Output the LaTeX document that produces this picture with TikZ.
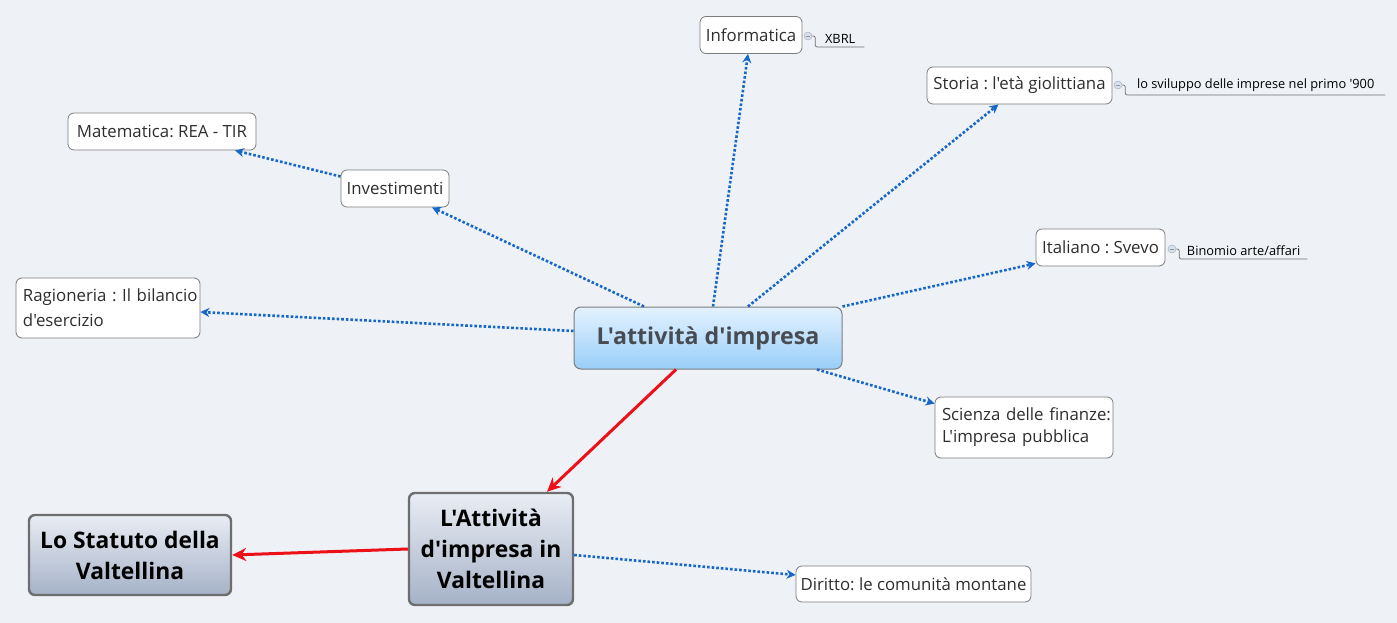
\documentclass[tikz,border=0pt]{standalone}
\usepackage{fontspec}
\newfontfamily\mapfont{Open Sans}
\usetikzlibrary{arrows.meta,positioning,calc}
\definecolor{MyBlue}{HTML}{1767C9}
\definecolor{MyRed}{HTML}{EC1018}
\definecolor{MyBack}{HTML}{EEF2F6}
\definecolor{MyBorder}{HTML}{7C7C7C}
\definecolor{MyFrame}{HTML}{6E6E6E}
\definecolor{MyText}{HTML}{2E2E2E}
\definecolor{MyTopic}{HTML}{474C52}
\definecolor{MyLightTop}{HTML}{E4F2FF}
\definecolor{MyLightBot}{HTML}{99CEF8}
\definecolor{MyGrayTop}{HTML}{E9EDF4}
\definecolor{MyGrayBot}{HTML}{A5B2C7}
\definecolor{MyIcon}{HTML}{D3E1F1}
\frenchspacing

\begin{document}
\begin{tikzpicture}[x=1pt, y=-1pt,
	every node/.style={font=\mapfont\fontsize{16.8}{20}\selectfont, text=MyText, inner sep=0pt},
	topic/.style={draw=MyBorder, fill=white, rounded corners=6pt, line width=0.8pt},
	central/.style={draw=MyBorder, rounded corners=7pt, top color=MyLightTop, bottom color=MyLightBot, line width=1pt, font=\mapfont\bfseries\fontsize{23.2}{28}\selectfont, text=MyTopic},
	mainbox/.style={draw=MyFrame, line width=2.4pt, rounded corners=6pt, top color=MyGrayTop, bottom color=MyGrayBot, align=center, font=\mapfont\bfseries\fontsize{22.8}{31}\selectfont, text=black},
	note/.style={anchor=south west, inner ysep=3pt, font=\mapfont\fontsize{12.8}{15}\selectfont, text=black},
	icon/.style={circle, draw=MyBorder!60, fill=MyIcon, line width=0.5pt, minimum size=8pt,
		path picture={\draw[MyBorder!80, line width=0.6pt] ([xshift=-2.2pt]path picture bounding box.center) -- ([xshift=2.2pt]path picture bounding box.center);}},
	link/.style={MyBlue, line width=2.6pt, dash pattern=on 2.6pt off 2pt, -{Stealth[length=9pt,width=9pt]}},
	hot/.style={MyRed, line width=3pt, -{Stealth[length=14pt,width=13pt]}},
	tail/.style={draw=MyFrame, line width=0.7pt, rounded corners=2pt},
	]
	\fill[MyBack] (0,0) rectangle (1397,623);
	\useasboundingbox (0,0) rectangle (1397,623);
	
	% centre
	\node[central, minimum width=268pt, minimum height=62pt] (central) at (708,338) {L'attività d'impresa};
	
	% argomenti
	\node[topic, minimum width=102pt, minimum height=37pt] (info) at (751,35) {Informatica};
	\node[topic, minimum width=185pt, minimum height=37pt] (storia) at (1019.5,85.5) {Storia : l'età giolittiana};
	\node[topic, minimum width=188pt, minimum height=37pt] (mate) at (162,131.5) {Matematica: REA - TIR};
	\node[topic, minimum width=108pt, minimum height=37pt] (invest) at (395,188.5) {Investimenti};
	\node[topic, minimum width=129pt, minimum height=37pt] (ital) at (1100.5,247.5) {Italiano : Svevo};
	\node[topic, minimum width=184pt, minimum height=60pt, text width=170pt, align=left, font=\mapfont\fontsize{16.8}{25}\selectfont] (ragio) at (108,308) {\mbox{Ragioneria : Il bilancio}\\\mbox{d'esercizio}};
	\node[topic, minimum width=178pt, minimum height=61pt, text width=164pt, align=left, font=\mapfont\fontsize{16.8}{22}\selectfont] (scienza) at (1024,427.5) {\mbox{Scienza delle finanze:}\\\mbox{L'impresa pubblica}};
	\node[topic, minimum width=235pt, minimum height=36pt] (diritto) at (913.5,584) {Diritto: le comunità montane};
	
	% valtellina
	\node[mainbox, minimum width=164pt, minimum height=112pt] (valt) at (491,549) {L'Attività\\d'impresa in\\Valtellina};
	\node[mainbox, minimum width=202pt, minimum height=80pt] (statuto) at (130,555) {Lo Statuto della\\Valtellina};
	
	% note
	\node[icon] (iconA) at (808,36) {};
	\node[note, minimum width=48pt] (xbrl) at (816,47) {XBRL};
	\node[icon] (iconB) at (1118,85) {};
	\node[note, minimum width=259pt] (svil) at (1126,95) {lo sviluppo delle imprese nel primo '900};
	\node[icon] (iconC) at (1172,249) {};
	\node[note, minimum width=127pt] (binom) at (1180,259) {Binomio arte/affari};
	\draw[tail] (iconA.east) -- ++(3,0) |- (xbrl.south east);
	\draw[tail] (iconB.east) -- ++(3,0) |- (svil.south east);
	\draw[tail] (iconC.east) -- ++(3,0) |- (binom.south east);
	
	% collegamenti
	\draw[link] ([xshift=5pt]central.north) -- ([xshift=-3pt]info.south);
	\draw[link] ([xshift=40pt]central.north) -- ([xshift=-21pt]storia.south);
	\draw[link] ([xshift=-64pt]central.north) -- ([xshift=37pt]invest.south);
	\draw[link] ([yshift=12pt]invest.west) -- ([xshift=73pt]mate.south);
	\draw[link] ([yshift=7pt]central.west) -- ([yshift=-4pt]ragio.east);
	\draw[link] (central.north east) -- ([yshift=3pt]ital.south west);
	\draw[link] ([xshift=109pt]central.south) -- ([yshift=-7pt]scienza.north west);
	\draw[link] ([yshift=-6pt]valt.east) -- ([yshift=9pt]diritto.west);
	%
	\draw[hot] ([xshift=-32pt]central.south) -- ([xshift=56pt]valt.north);
	\draw[hot] (valt.west) -- (statuto.east);
\end{tikzpicture}
\end{document}
